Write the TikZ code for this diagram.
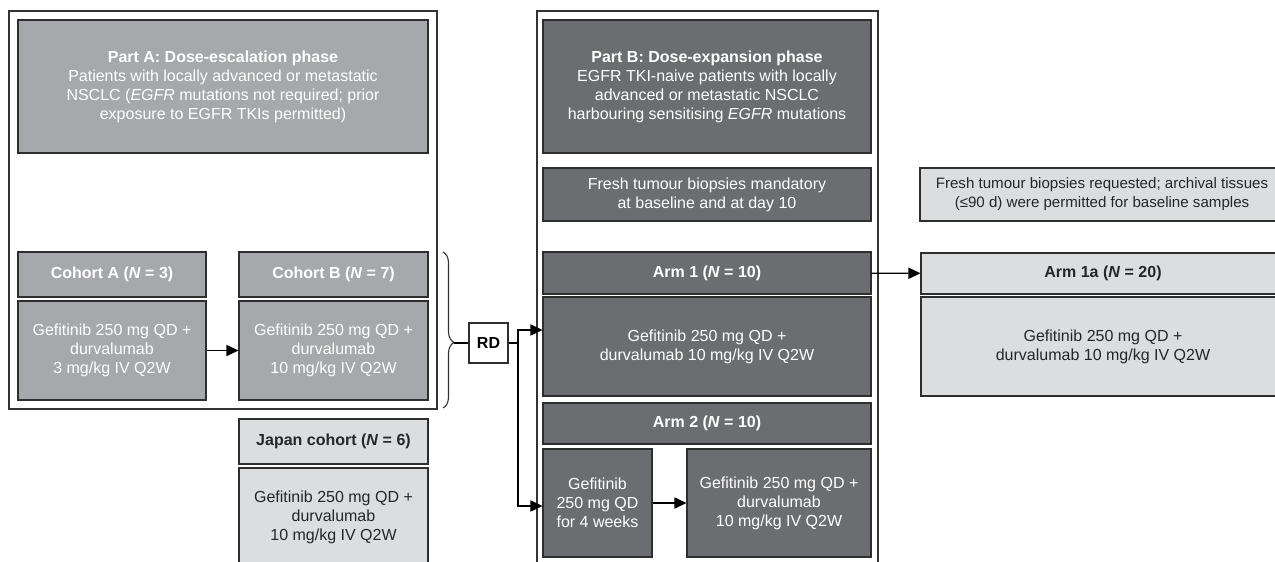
\documentclass[tikz,border=0pt]{standalone}
\usepackage{fontspec}
\setmainfont{Liberation Sans}
\usetikzlibrary{arrows.meta,decorations.pathreplacing}
\definecolor{grA}{HTML}{A7A8AB}
\definecolor{grB}{HTML}{6C6D71}
\definecolor{grL}{HTML}{DCDDDF}
\definecolor{edge}{HTML}{2E2E2E}

\begin{document}
\begin{tikzpicture}[x=0.5pt,y=-0.5pt,>={Triangle[length=6pt,width=5.6pt]},line width=0.55pt,
	every node/.style={draw=edge,align=center,inner sep=0pt,font=\fontsize{8}{9.5}\selectfont},
	pa/.style={fill=grA,text=white},
	pb/.style={fill=grB,text=white},
	lt/.style={fill=grL,text=black!85}]
	\useasboundingbox (0,0) rectangle (1275,562);
	% Part A
	\draw[draw=black!80] (9,11) rectangle (437,409);
	\node[pa,minimum width=205pt,minimum height=66.5pt] (hA) at (223,86.5) {\textbf{Part A: Dose-escalation phase}\\Patients with locally advanced or metastatic\\NSCLC (\textit{EGFR} mutations not required; prior\\exposure to EGFR TKIs permitted)};
	\node[pa,minimum width=94pt,minimum height=22.5pt] (cAh) at (112,274.5) {\textbf{Cohort A (\textit{N} = 3)}};
	\node[pa,minimum width=94pt,minimum height=49.5pt] (cAb) at (112,350.5) {Gefitinib 250 mg QD +\\durvalumab\\3 mg/kg IV Q2W};
	\node[pa,minimum width=94.5pt,minimum height=22.5pt] (cBh) at (333.5,274.5) {\textbf{Cohort B (\textit{N} = 7)}};
	\node[pa,minimum width=94.5pt,minimum height=49.5pt] (cBb) at (333.5,350.5) {Gefitinib 250 mg QD +\\durvalumab\\10 mg/kg IV Q2W};
	\node[lt,minimum width=94.5pt,minimum height=22.5pt] (jh) at (333.5,441.5) {\textbf{Japan cohort (\textit{N} = 6)}};
	\node[lt,minimum width=94.5pt,minimum height=49pt] (jb) at (333.5,517) {Gefitinib 250 mg QD +\\durvalumab\\10 mg/kg IV Q2W};
	\draw[->] (cAb) -- (cBb);

	\draw[draw=black!80,decorate,decoration={brace,amplitude=5.5pt,aspect=0.58}] (443,252) -- (443,408);
	\coordinate (bt) at (454,343);
	\node[fill=white,minimum width=19.5pt,minimum height=20pt] (rd) at (488.5,343) {\textbf{RD}};
	\draw (bt) -- (rd);

	% Part B
	\draw[draw=black!80] (537,570) -- (537,11) -- (878,11) -- (878,570);
	\node[pb,minimum width=164pt,minimum height=66.5pt] (hB) at (707,86.5) {\textbf{Part B: Dose-expansion phase}\\EGFR TKI-naive patients with locally\\advanced or metastatic NSCLC\\harbouring sensitising \textit{EGFR} mutations};
	\node[pb,minimum width=164pt,minimum height=26.5pt] (frB) at (707,194.5) {Fresh tumour biopsies mandatory\\at baseline and at day 10};
	\node[pb,minimum width=164pt,minimum height=21pt] (a1h) at (707,273) {\textbf{Arm 1 (\textit{N} = 10)}};
	\node[pb,minimum width=164pt,minimum height=49.5pt] (a1b) at (707,346.5) {Gefitinib 250 mg QD +\\durvalumab 10 mg/kg IV Q2W};
	\node[pb,minimum width=164pt,minimum height=20.5pt] (a2h) at (707,423.5) {\textbf{Arm 2 (\textit{N} = 10)}};
	\node[pb,minimum width=54.5pt,minimum height=54pt] (a2l) at (597.5,503) {Gefitinib\\250 mg QD\\for 4 weeks};
	\node[pb,minimum width=92pt,minimum height=54pt] (a2r) at (779,503) {Gefitinib 250 mg QD +\\durvalumab\\10 mg/kg IV Q2W};
	\draw[->] (a2l) -- (a2r);

	\coordinate (s1) at (518,330);
	\coordinate (s2) at (518,506);
	\draw[->] (rd.east) -| (s1) -- (s1 -| a1b.west);
	\draw[->] (rd.east) -| (s2) -- (s2 -| a2l.west);

	% Arm 1a
	\node[lt,minimum width=182pt,minimum height=26.5pt,font=\fontsize{7.55}{9.5}\selectfont] (frR) at (1102,194.5) {Fresh tumour biopsies requested; archival tissues\\(≤90 d) were permitted for baseline samples};
	\node[lt,minimum width=182pt,minimum height=20.5pt] (a1ah) at (1103,273.5) {\textbf{Arm 1a (\textit{N} = 20)}};
	\node[lt,minimum width=182pt,minimum height=49.5pt] (a1ab) at (1103,346.5) {Gefitinib 250 mg QD +\\durvalumab 10 mg/kg IV Q2W};
	\draw[->] (a1h) -- (a1ah);
\end{tikzpicture}
\end{document}
